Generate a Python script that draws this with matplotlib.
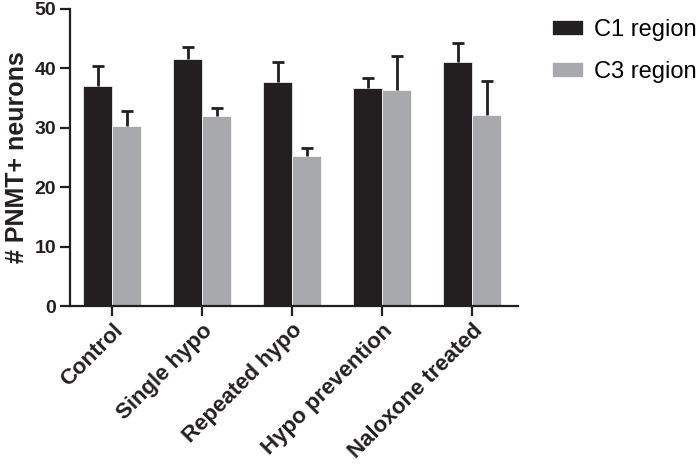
import numpy as np
import matplotlib
matplotlib.use('Agg')
import matplotlib.pyplot as plt

plt.rcParams['font.family'] = ['Liberation Sans', 'DejaVu Sans']

# Data
groups = ['Control', 'Single hypo', 'Repeated hypo', 'Hypo prevention', 'Naloxone treated']
c1_mean = [37.0, 41.5, 37.6, 36.6, 41.1]
c1_err = [3.4, 2.1, 3.4, 1.8, 3.1]
c3_mean = [30.3, 31.9, 25.2, 36.4, 32.2]
c3_err = [2.5, 1.4, 1.4, 5.6, 5.6]

x = np.arange(len(groups))
w = 0.32
black = '#231f20'
gray = '#a7a9ac'

fig = plt.figure(figsize=(7, 4.69), dpi=100)
ax = fig.add_axes([0.1, 0.3475, 0.64, 0.634])

for off, mean, err, col, lab in [(-w / 2, c1_mean, c1_err, black, 'C1 region'),
                                 (w / 2, c3_mean, c3_err, gray, 'C3 region')]:
    bars = ax.bar(x + off, mean, w, color=col, edgecolor='white', linewidth=0.5,
                  yerr=[np.zeros(len(x)), err], capsize=4.5,
                  error_kw=dict(ecolor=black, elinewidth=2, capthick=2), label=lab)
    # only the upper cap
    bars.errorbar.lines[1][0].set_visible(False)

ax.set_xlim(-0.47, 4.51)
ax.set_ylim(0, 50)
ax.set_yticks([0, 10, 20, 30, 40, 50])
ax.set_xticks(x)
ax.set_xticklabels(groups, rotation=45, ha='right', rotation_mode='anchor',
                   fontsize=16, fontweight='bold')
for lbl in ax.get_yticklabels():
    lbl.set_fontweight('bold')
    lbl.set_fontsize(14)
ax.set_ylabel('# PNMT+ neurons', fontsize=18, fontweight='bold', color=black, labelpad=4)

for s in ['top', 'right']:
    ax.spines[s].set_visible(False)
for s in ['left', 'bottom']:
    ax.spines[s].set_linewidth(1.6)
    ax.spines[s].set_color(black)
ax.tick_params(direction='out', length=7, width=1.6, color=black, labelcolor=black, pad=3)

fig.legend(loc='upper left', bbox_to_anchor=(0.789, 0.96), frameon=False,
           fontsize=17, handlelength=1.3, handleheight=0.55, labelspacing=0.85,
           handletextpad=0.45, borderpad=0, borderaxespad=0)

plt.savefig('out.png', dpi=100)
